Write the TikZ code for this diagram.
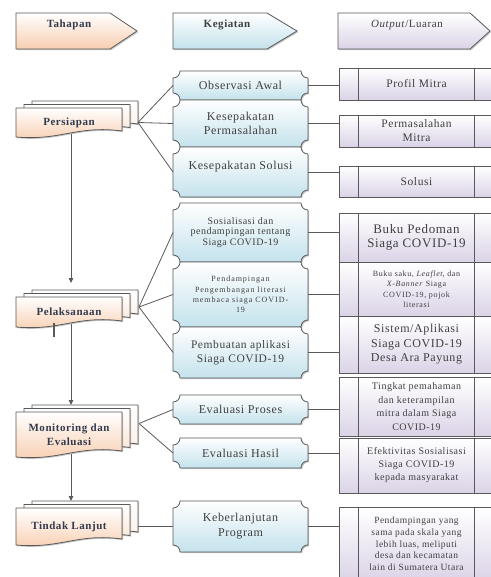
\documentclass[tikz,border=0pt]{standalone}
\usepackage{fontspec}
\setmainfont{Liberation Serif}[LetterSpace=5]
\usetikzlibrary{calc,backgrounds,shadows,arrows.meta}

\definecolor{peach}{RGB}{248,206,176}
\definecolor{iceblue}{RGB}{196,226,236}
\definecolor{lilac}{RGB}{219,211,231}
\definecolor{edge}{RGB}{89,89,89}
\definecolor{ink}{RGB}{64,64,64}
\definecolor{phaseink}{RGB}{50,60,78}

\begin{document}
\begin{tikzpicture}[x=1pt,y=-1pt,
    every node/.style={inner sep=2pt, outer sep=0pt, align=center, text=ink},
    phase/.style={minimum width=106pt, font=\bfseries\fontsize{11}{14}\selectfont, text=phaseink},
    act/.style={minimum width=135pt, font=\fontsize{12}{14}\selectfont},
    outp/.style={minimum width=155pt, font=\fontsize{11.5}{14}\selectfont},
    headtext/.style={font=\fontsize{11}{13}\selectfont},
    line/.style={draw=edge, line width=0.8pt},
    flow/.style={line, -{Triangle[length=5pt,width=4.5pt]}},
    box shadow/.style={drop shadow={shadow xshift=1.2pt, shadow yshift=-1.2pt, fill=black!45, opacity=.5}},
    docshape/.style={line, top color=white, bottom color=peach, box shadow},
    plaque/.style={line, top color=white, bottom color=iceblue, box shadow},
    outbox/.style={line, top color=white, bottom color=lilac, box shadow}
  ]
  \useasboundingbox (0,0) rectangle (490,577);

  % column heads
  \node[headtext, font=\bfseries\fontsize{11}{13}\selectfont, text=phaseink] (hTahapan) at (69,25) {Tahapan};
  \node[headtext, font=\bfseries\fontsize{11}{13}\selectfont] (hKegiatan) at (227,25) {Kegiatan};
  \node[headtext] (hOutput) at (407,25) {\textit{Output}/Luaran};

  % stages
  \node[phase, minimum height=29pt] (persiapan) at (69,122.5) {Persiapan};
  \node[phase, minimum height=30pt] (pelaksanaan) at (69,312) {Pelaksanaan};
  \node[phase, minimum height=45pt] (monev) at (69,434.5) {Monitoring dan\\Evaluasi};
  \node[phase, minimum height=37pt] (lanjut) at (69,526.5) {Tindak Lanjut};

  % activities
  \node[act, minimum height=29pt] (observasi) at (240.5,85.5) {Observasi Awal};
  \node[act, minimum height=47pt] (kesMasalah) at (240.5,123.5) {Kesepakatan\\Permasalahan};
  \node[act, minimum height=50pt, text depth=14pt] (kesSolusi) at (240.5,172) {Kesepakatan Solusi};
  \node[act, minimum height=59pt, font=\fontsize{10}{10.5}\selectfont] (sosialisasi) at (240.5,232.5)
    {Sosialisasi dan\\pendampingan tentang\\Siaga COVID-19};
  \node[act, minimum height=65pt, font=\fontsize{8}{10.3}\selectfont\addfontfeature{LetterSpace=12}] (pendampingan) at (240.5,294.5)
    {Pendampingan\\Pengembangan literasi\\membaca siaga COVID-\\19};
  \node[act, minimum height=51pt, font=\fontsize{11.5}{13.5}\selectfont] (aplikasi) at (240.5,352.5)
    {Pembuatan aplikasi\\Siaga COVID-19};
  \node[act, minimum height=29pt] (evProses) at (240.5,409.5) {Evaluasi Proses};
  \node[act, minimum height=30pt] (evHasil) at (240.5,453) {Evaluasi Hasil};
  \node[act, minimum height=51pt, font=\fontsize{12}{15}\selectfont] (lanjutan) at (240.5,526.5) {Keberlanjutan\\Program};

  % outputs
  \node[outp, minimum height=32pt] (profil) at (416.5,84) {Profil Mitra};
  \node[outp, minimum height=32pt] (masalah) at (416.5,131) {Permasalahan\\Mitra};
  \node[outp, minimum height=31pt] (solusi) at (416.5,181.5) {Solusi};
  \node[outp, minimum height=49pt, font=\fontsize{13}{14}\selectfont] (pedoman) at (416.5,237.5)
    {Buku Pedoman\\Siaga COVID-19};
  \node[outp, minimum height=54pt, font=\fontsize{8}{10.5}\selectfont\addfontfeature{LetterSpace=8}] (media) at (416.5,289)
    {Buku saku, \textit{Leaflet}, dan\\\textit{X-Banner} Siaga\\COVID-19, pojok\\literasi};
  \node[outp, minimum height=57pt, font=\fontsize{12}{14.5}\selectfont] (sistem) at (416.5,344.5)
    {Sistem/Aplikasi\\Siaga COVID-19\\Desa Ara Payung};
  \node[outp, minimum height=59pt, font=\fontsize{10}{13.5}\selectfont] (pemahaman) at (416.5,406.5)
    {Tingkat pemahaman\\dan keterampilan\\mitra dalam Siaga\\COVID-19};
  \node[outp, minimum height=55pt, font=\fontsize{10}{13}\selectfont] (efektivitas) at (416.5,465.5)
    {Efektivitas Sosialisasi\\Siaga COVID-19\\kepada masyarakat};
  \node[outp, minimum height=74pt, font=\fontsize{9.5}{11.7}\selectfont] (perluasan) at (416.5,544)
    {Pendampingan yang\\sama pada skala yang\\lebih luas, meliputi\\desa dan kecamatan\\lain di Sumatera Utara};

  \begin{scope}[on background layer]
    \foreach \xa/\xb/\xc/\tint in {16/110/137/peach, 173/267/297/iceblue, 338/470/490/lilac}
      \path[line, top color=white, bottom color=\tint, box shadow]
        (\xa,13) -- (\xb,13) -- (\xc,31) -- (\xb,49) -- (\xa,49) -- cycle;

    % stacked documents
    \foreach \n in {persiapan,pelaksanaan,monev,lanjut}
      \foreach \dx/\dy/\tint in {16/-7/peach!35, 8/-3.5/peach!60, 0/0/peach}
        \path[docshape, bottom color=\tint]
          ($(\n.north west)+(\dx,\dy)$) -- ($(\n.north east)+(\dx,\dy)$)
          -- ($(\n.south east)+(\dx,\dy-6)$)
          .. controls +(-45,-6) and +(45,4) .. ($(\n.south west)+(\dx,\dy)$) -- cycle;

    \foreach \n in {observasi,kesMasalah,kesSolusi,sosialisasi,pendampingan,aplikasi,evProses,evHasil,lanjutan}
      \path[plaque] ($(\n.north west)+(7,0)$) -- ($(\n.north east)+(-7,0)$)
        .. controls +(0,4) and +(-4,0) .. ($(\n.north east)+(0,7)$)
        -- ($(\n.south east)+(0,-7)$)
        .. controls +(-4,0) and +(0,-4) .. ($(\n.south east)+(-7,0)$)
        -- ($(\n.south west)+(7,0)$)
        .. controls +(0,-4) and +(4,0) .. ($(\n.south west)+(0,-7)$)
        -- ($(\n.north west)+(0,7)$)
        .. controls +(4,0) and +(0,4) .. ($(\n.north west)+(7,0)$) -- cycle;

    \foreach \n in {profil,masalah,solusi,pedoman,media,sistem,pemahaman,efektivitas,perluasan}{
      \path[outbox] (\n.north west) rectangle (\n.south east);
      \draw[line] ($(\n.north west)+(19,0)$) -- ($(\n.south west)+(19,0)$)
                  ($(\n.north east)+(-20,0)$) -- ($(\n.south east)+(-20,0)$);
    }
  \end{scope}

  % stage to activities
  \foreach \t in {observasi,kesMasalah,kesSolusi}
    \draw[line] ($(persiapan.east)+(16,0)$) -- (\t.west);
  \foreach \t in {sosialisasi,pendampingan,aplikasi}
    \draw[line] ($(pelaksanaan.east)+(17,-5)$) -- (\t.west);
  \foreach \t in {evProses,evHasil}
    \draw[line] ($(monev.east)+(17,-11)$) -- (\t.west);
  \draw[line] ($(lanjut.east)+(16,0)$) -- (lanjutan.west);

  % activities to outputs
  \foreach \a/\b in {observasi/profil,kesMasalah/masalah,kesSolusi/solusi,sosialisasi/pedoman,
                     pendampingan/media,aplikasi/sistem,evProses/pemahaman,evHasil/efektivitas,lanjutan/perluasan}
    \draw[line] (\a.east) -- (\a.east -| \b.west);

  % stage flow
  \draw[flow] ($(persiapan.south)+(2,-3)$) -- ($(pelaksanaan.north)+(2,-14)$);
  \draw[flow] ($(pelaksanaan.south)+(2,-3)$) -- ($(monev.north)+(2,-7)$);
  \draw[flow] ($(monev.south)+(2,-3)$) -- ($(lanjut.north)+(2,-7)$);

  \draw[edge, line width=1.4pt] ($(pelaksanaan.south)+(-15,-4)$) -- ++(0,14);
\end{tikzpicture}
\end{document}
